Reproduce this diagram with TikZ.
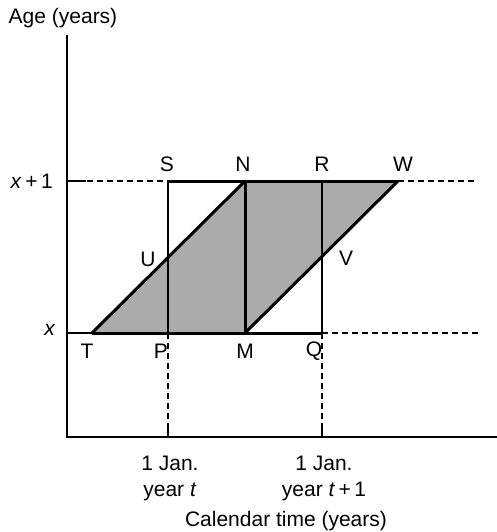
\documentclass[tikz,border=0pt]{standalone}
\usepackage{fontspec}
\setmainfont{Liberation Sans}
\begin{document}
\begin{tikzpicture}[x=1pt,y=-1pt,
  lbl/.style={font=\fontsize{21}{25}\selectfont, inner sep=0pt},
  heavy/.style={line width=3pt, line join=miter},
  medium/.style={line width=2.3pt},
  axisline/.style={line width=1.6pt},
  guide/.style={line width=1.2pt, dash pattern=on 6pt off 4pt},
  cohort/.style={fill=black!33}]
\useasboundingbox (0,0) rectangle (497,532);
% axis anchors
\coordinate (O) at (67,437);
\coordinate (Ytop) at (67,35);
\coordinate (Xend) at (497,437);
\coordinate (A1) at (67,181);
\coordinate (A0) at (67,333);
\coordinate (E1) at (478,181);
\coordinate (E0) at (478,333);
\coordinate (Pb) at (168,437);
\coordinate (Qb) at (322,437);
% diagram points
\coordinate (T) at (92,333);
\coordinate (P) at (168,333);
\coordinate (M) at (245,333);
\coordinate (Q) at (322,333);
\coordinate (S) at (168,181);
\coordinate (N) at (245,181);
\coordinate (R) at (322,181);
\coordinate (W) at (398,181);
\coordinate (U) at (168,257);
\coordinate (V) at (322,257);
% shaded cohort
\fill[cohort] (T) -- (N) -- (W) -- (M) -- cycle;
% guides
\draw[guide] (A1) -- (S);
\draw[guide] (W) -- (E1);
\draw[guide] (Q) -- (E0);
\draw[guide] (P) -- (Pb);
\draw[guide] (Q) -- (Qb);
% ticks
\draw[axisline] (A1) -- ++(19,0);
\draw[axisline] (A0) -- (T);
\draw[axisline] (Pb) -- ++(0,-12);
\draw[axisline] (Qb) -- ++(0,-12);
% axes
\draw[axisline] (Ytop) -- (O) -- (Xend);
% heavy lines
\draw[medium] (S) -- (P);
\draw[medium] (R) -- (Q);
\draw[heavy] (T) -- (Q);
\draw[heavy] (S) -- (W);
\draw[heavy] (T) -- (N);
\draw[heavy] (M) -- (W);
\draw[heavy] (N) -- (M);
% labels
\node[lbl] (lS) at (167,164) {S};
\node[lbl] (lN) at (243,164) {N};
\node[lbl] (lR) at (322,164) {R};
\node[lbl] (lW) at (403,164) {W};
\node[lbl] (lU) at (148,259) {U};
\node[lbl] (lV) at (346,258) {V};
\node[lbl] (lT) at (87,351) {T};
\node[lbl] (lP) at (161,351) {P};
\node[lbl] (lM) at (245,351) {M};
\node[lbl] (lQ) at (314,351) {Q};
\node[lbl, anchor=east] (lx1) at (53,181) {\textit{x}\,+\,1};
\node[lbl] (lx0) at (50,330) {\textit{x}};
\node[lbl, anchor=base] (ly) at (63,24) {Age (years)};
\node[lbl, anchor=base] (j1) at (170,470) {1 Jan.};
\node[lbl, anchor=base] (y1) at (170,496) {year \textit{t}};
\node[lbl, anchor=base] (j2) at (324,470) {1 Jan.};
\node[lbl, anchor=base] (y2) at (324,496) {year \textit{t}\,+\,1};
\node[lbl, anchor=base] (cx) at (286,526) {Calendar time (years)};
\end{tikzpicture}
\end{document}
